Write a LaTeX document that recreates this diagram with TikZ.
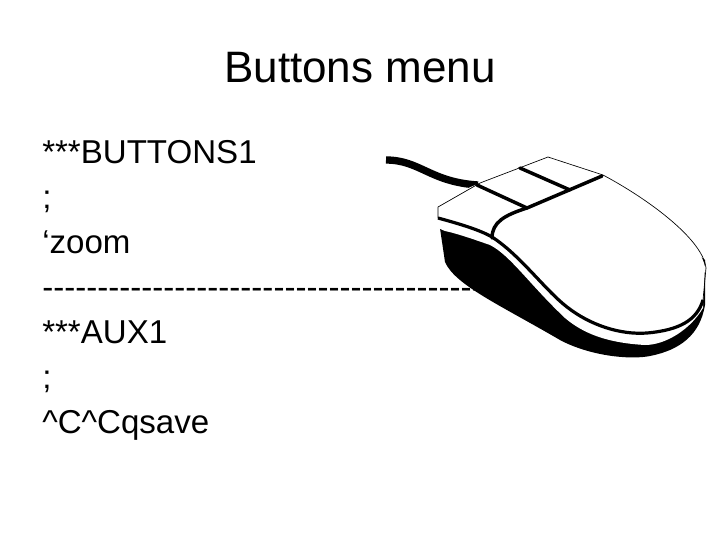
\documentclass[tikz,border=0pt]{standalone}
\usepackage{fontspec}
\setmainfont{Liberation Sans}[Ligatures=NoCommon]
\begin{document}
\begin{tikzpicture}[x=0.75pt,y=-0.75pt,
  bodytxt/.style={anchor=base west,inner sep=0pt,font=\fontsize{24.8}{29}\selectfont},
  btn/.style={line width=2.6pt,line cap=round}]
\useasboundingbox[fill=white] (0,0) rectangle (720,540);
\node[inner sep=0pt,font=\fontsize{33}{38}\selectfont] (title) at (360,68) {Buttons menu};
\node[bodytxt] (l1) at (42,163) {***BUTTONS1};
\node[bodytxt] (l2) at (42,208) {;};
\node[bodytxt] (l3) at (42,253) {‘zoom};
\node[bodytxt] (l4) at (42,298) {\foreach \i in {1,...,44}{-\kern0pt}};
\node[bodytxt] (l5) at (42,343) {***AUX1};
\node[bodytxt] (l6) at (42,388) {;};
\node[bodytxt] (l7) at (42,433) {\^{}C\^{}Cqsave};
% cord
\draw[line width=5.5pt] (386,160) .. controls (420,160) and (430,182) .. (478,185);
% black base
\fill[black] (438,215) -- (445,262) .. controls (455,285) and (500,305) .. (560,340)
  .. controls (590,356) and (630,360) .. (650,356) .. controls (680,350) and (700,335) .. (705,305)
  -- (705,260) -- (600,180) -- cycle;
% white stripe + body
\fill[white] (438,205) -- (440,200) -- (480,183) -- (548,157) -- (603,175)
  .. controls (650,200) and (700,240) .. (705,267) -- (703,308)
  .. controls (690,330) and (665,345) .. (645,345)
  .. controls (610,343) and (585,335) .. (565,318)
  .. controls (530,285) and (510,255) .. (490,245)
  .. controls (470,238) and (455,233) .. (445,231) -- (438,228) -- cycle;
% body bottom edge (thick)
\draw[line width=2.4pt] (438,218) .. controls (460,224) and (480,230) .. (492,237)
  .. controls (520,255) and (545,290) .. (567,307)
  .. controls (590,325) and (620,335) .. (647,333)
  .. controls (680,330) and (697,320) .. (703,300);
% body top outline (thin)
\draw[line width=0.5pt] (438,218) -- (438,207) -- (480,183) -- (548,157) -- (603,175)
  .. controls (650,200) and (703,240) .. (706,268) -- (703,300);
% buttons
\draw[btn] (477,185) -- (527,208);
\draw[btn] (520,168) -- (570,190);
\draw[btn] (602,176) -- (527,208) .. controls (505,215) and (492,222) .. (492,238);
\end{tikzpicture}
\end{document}
